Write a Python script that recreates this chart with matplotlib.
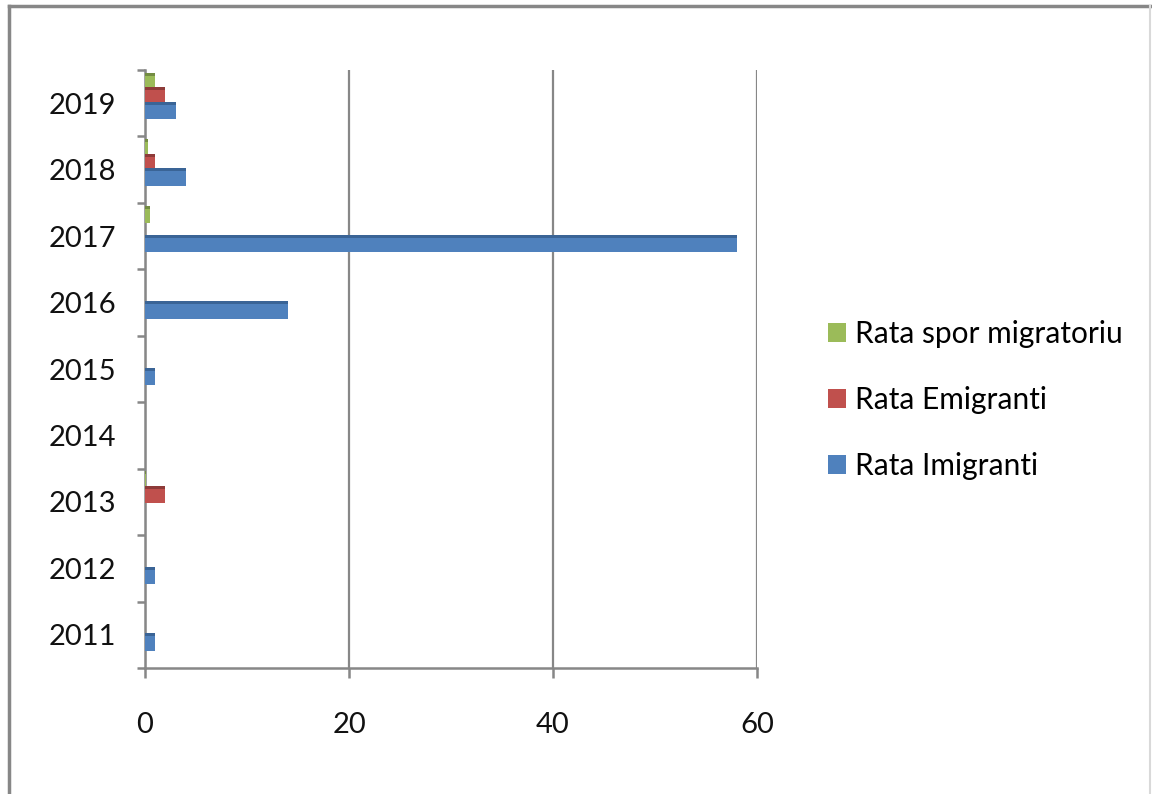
import matplotlib.pyplot as plt
import numpy as np
from matplotlib.lines import Line2D
from matplotlib.patches import Patch

plt.rcParams['font.family'] = ['Lato', 'DejaVu Sans']

years = ['2011', '2012', '2013', '2014', '2015', '2016', '2017', '2018', '2019']
rata_imigranti = [1, 1, 0, 0, 1, 14, 58, 4, 3]
rata_emigranti = [0, 0, 2, 0, 0, 0, 0, 1, 2]
rata_spor = [0, 0, 0.1, 0, 0, 0, 0.5, 0.3, 1]

series = [
    ('Rata Imigranti', rata_imigranti, '#4F81BD', '#3A6496', -0.11),
    ('Rata Emigranti', rata_emigranti, '#C0504D', '#8E3B39', 0.11),
    ('Rata spor migratoriu', rata_spor, '#9BBB59', '#738C42', 0.33),
]

fig = plt.figure(figsize=(11.52, 7.94), dpi=100)
ax = fig.add_axes([145 / 1152, 1 - 668 / 794, (757 - 145) / 1152, (668 - 70) / 794])

y = np.arange(len(years))
h = 0.26
strip = 0.045
for name, vals, col, dark, off in series:
    ax.barh(y + off, vals, height=h, color=col, edgecolor='none', zorder=3)
    # darker top edge, like the excel bevel
    ax.barh(y + off + h / 2 - strip / 2, vals, height=strip, color=dark, edgecolor='none', zorder=4)

ax.set_xlim(0, 60)
ax.set_ylim(-0.5, len(years) - 0.5)
ax.set_xticks([0, 20, 40, 60])
ax.set_yticks(y)
ax.set_yticklabels(years)
ax.set_yticks(np.arange(-0.5, len(years)), minor=True)

grey = '#878787'
ax.grid(axis='x', color=grey, linewidth=1.6, zorder=1)
for s in ['top', 'right']:
    ax.spines[s].set_visible(False)
for s in ['left', 'bottom']:
    ax.spines[s].set_color(grey)
    ax.spines[s].set_linewidth(1.8)
    ax.spines[s].set_zorder(2)

ax.tick_params(axis='y', which='major', length=0, pad=21, labelsize=21, labelcolor='#111111')
ax.tick_params(axis='y', which='minor', length=6, width=1.8, color=grey)
ax.tick_params(axis='x', length=7, width=1.8, color=grey, pad=25, labelsize=21, labelcolor='#111111')

handles = [Patch(facecolor=c, edgecolor='none') for _, _, c, _, _ in series[::-1]]
labels = [n for n, _, _, _, _ in series[::-1]]
fig.legend(handles, labels, loc='upper left', bbox_to_anchor=(828 / 1152, 1 - 320 / 794),
           frameon=False, fontsize=21.5, handlelength=0.6, handleheight=0.6,
           handletextpad=0.3, labelspacing=1.27, borderpad=0, borderaxespad=0)

# outer frame of the chart
fig.add_artist(Line2D([9 / 1152, 9 / 1152], [-0.02, 1 - 6 / 794], transform=fig.transFigure,
                      color=grey, linewidth=2.5))
fig.add_artist(Line2D([9 / 1152, 1150 / 1152], [1 - 6 / 794, 1 - 6 / 794], transform=fig.transFigure,
                      color=grey, linewidth=2.5))
fig.add_artist(Line2D([1150 / 1152, 1150 / 1152], [-0.02, 1 - 6 / 794], transform=fig.transFigure,
                      color='#d9d9d9', linewidth=1.5))

fig.savefig('out.png', dpi=100, facecolor='white')
